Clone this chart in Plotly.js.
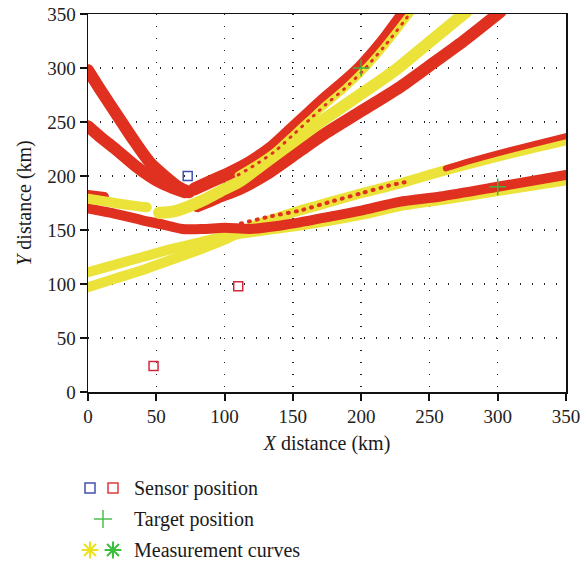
<!DOCTYPE html>
<html><head><meta charset="utf-8">
<script src="https://cdn.plot.ly/plotly-3.0.1.min.js"></script>
<style>
html,body{margin:0;padding:0;background:#fff}
.scatterlayer .js-line{stroke-linecap:round;stroke-linejoin:round}
</style>
</head><body>
<div id="chart" style="width:581px;height:565px"></div>
<script>
// ---- data (km) ----
const redOuterX = [0, 10, 22, 33, 45, 57, 66, 74];
const redOuterY = [298, 278, 255, 234, 213, 199, 190, 185];
const redInnerX = [0, 10, 21, 35, 50, 62, 71];
const redInnerY = [246, 235, 224, 209, 196, 189, 185];
const redBand1X = [78, 90, 104, 119, 135, 148, 160, 172, 186, 199, 215, 232];
const redBand1Y = [188, 195, 203, 213, 227, 242, 256, 270, 285, 300, 323, 352];
const yelBand1X = [110, 122, 137, 150, 162, 174, 188, 201, 217, 238];
const yelBand1Y = [201, 210, 223, 238, 252, 266, 281, 297, 320, 354];
const yelLeftX = [0, 15, 30, 43];
const yelLeftY = [179, 176, 173, 171];
const redLeftX = [0, 6, 12];
const redLeftY = [183, 182, 181];
const yelBand2X = [52, 62, 72, 85, 100, 111, 125, 140, 155, 170, 185, 200, 215, 228, 250, 277];
const yelBand2Y = [166, 167, 171, 178, 188, 195, 208, 222, 236, 250, 263, 276, 289, 301, 324, 352];
const redBand3X = [80, 95, 111, 130, 155, 172, 200, 228, 250, 275, 302];
const redBand3Y = [172, 180, 188, 201, 223, 238, 260, 282, 302, 325, 352];
const redLowX = [0, 20, 40, 55, 69, 85, 100, 119, 140, 155, 180, 200, 228, 258, 300, 350];
const redLowY = [170, 165, 159, 155, 151, 151, 152, 151, 154, 157, 163, 168, 176, 181, 190, 201];
const yelLow1X = [0, 20, 40, 60, 80, 100, 120, 155, 200, 228, 260, 300, 350];
const yelLow1Y = [111, 118, 125, 132, 138, 144, 148, 154, 164, 172, 178, 186, 196];
const yelLow2X = [0, 20, 40, 60, 80, 100, 118, 140, 155, 180, 200, 228, 258, 300, 350];
const yelLow2Y = [97, 105, 113, 122, 131, 141, 152, 162, 168, 177, 184, 193, 204, 218, 233];
const redSpeckUX = [112, 135, 155, 180, 200, 220, 235];
const redSpeckUY = [156, 163, 168, 177, 184, 191, 195];
const redEdgeUX = [262, 280, 300, 325, 350];
const redEdgeUY = [207, 214, 221, 229, 237];
const blueSensorX = [73];
const blueSensorY = [200];
const redSensorX = [48, 110];
const redSensorY = [24, 98];
const targetX = [200, 300];
const targetY = [300, 190];
const xTicks = [0, 50, 100, 150, 200, 250, 300, 350];
const yTicks = [0, 50, 100, 150, 200, 250, 300, 350];
const legendLabels = ['Sensor position', 'Target position', 'Measurement curves'];

// ---- styles / layout ----
const RED = '#e0301f', YEL = '#ebe33a', GREEN = '#3fb33f', BLUE = '#4150ad', SRED = '#d2283a';
const FONT = 'Liberation Serif, Times New Roman, serif';
const W = 581, H = 565, M = {l: 88, r: 15, t: 14, b: 5};
const paperH = H - M.t - M.b;
const plotBottomPx = 392;
const mainBottom = (H - M.b - plotBottomPx) / paperH;
const legDom = 0.2;

function band(x, y, color, width, dash) {
  const ln = {color: color, width: width, shape: 'spline', smoothing: 0.7};
  if (dash) ln.dash = dash;
  return {x: x, y: y, type: 'scatter', mode: 'lines', hoverinfo: 'skip', line: ln, showlegend: false};
}

const SPECK = '1px,7px';
const traces = [
  band(yelLow1X, yelLow1Y, YEL, 10),
  band(yelLow2X, yelLow2Y, YEL, 10),
  band(redLowX, redLowY, RED, 10),
  band(redSpeckUX, redSpeckUY, RED, 4, SPECK),
  band(redEdgeUX, redEdgeUY, RED, 6),
  band(redLeftX, redLeftY, RED, 9),
  band(yelLeftX, yelLeftY, YEL, 10),
  band(redOuterX, redOuterY, RED, 12),
  band(redInnerX, redInnerY, RED, 12),
  band(redBand3X, redBand3Y, RED, 12),
  band(yelBand2X, yelBand2Y, YEL, 12),
  band(redBand1X, redBand1Y, RED, 13),
  band(yelBand1X, yelBand1Y, YEL, 7),
  band(yelBand1X, yelBand1Y, RED, 3, SPECK),
  {x: blueSensorX, y: blueSensorY, type: 'scatter', mode: 'markers', showlegend: false,
   marker: {symbol: 'square-open', size: 9, color: BLUE, line: {width: 1.5, color: BLUE}}},
  {x: redSensorX, y: redSensorY, type: 'scatter', mode: 'markers', showlegend: false,
   marker: {symbol: 'square-open', size: 9, color: SRED, line: {width: 1.5, color: SRED}}},
  {x: targetX, y: targetY, type: 'scatter', mode: 'markers', showlegend: false,
   marker: {symbol: 'cross-thin-open', size: 12, color: GREEN, line: {width: 1.5, color: '#2f9a2f'}}}
];

// legend built on a hidden axis pair (x2 and y2 measured in px)
const legY = [488, 519, 550];
traces.push(
  {x: [90, 113], y: [legY[0], legY[0]], xaxis: 'x2', yaxis: 'y2', type: 'scatter', mode: 'markers', showlegend: false, cliponaxis: false,
   marker: {symbol: 'square-open', size: 10, color: [BLUE, '#e03a3a'], line: {width: 1.5, color: [BLUE, '#e03a3a']}}},
  {x: [103], y: [legY[1]], xaxis: 'x2', yaxis: 'y2', type: 'scatter', mode: 'markers', showlegend: false, cliponaxis: false,
   marker: {symbol: 'cross-thin-open', size: 13, color: '#4cc04c', line: {width: 1.5, color: '#4cc04c'}}},
  {x: [90, 113], y: [legY[2], legY[2]], xaxis: 'x2', yaxis: 'y2', type: 'scatter', mode: 'markers', showlegend: false, cliponaxis: false,
   marker: {symbol: 'asterisk-open', size: 14, color: ['#ece21c', '#3cc03c'], line: {width: 2, color: ['#ece21c', '#3cc03c']}}}
);

const annotations = legendLabels.map((t, i) => ({
  xref: 'x2', yref: 'y2', x: 132, y: legY[i], xanchor: 'left', yanchor: 'middle', showarrow: false,
  text: t, font: {family: FONT, size: 20, color: '#1a1a1a'}
}));

const axisCommon = {
  range: [0, 350], dtick: 50, tick0: 0, showline: true, linecolor: '#111', linewidth: 1.5, mirror: true,
  ticks: 'outside', ticklen: 7, tickwidth: 2, tickcolor: '#111', zeroline: false,
  showgrid: true, gridcolor: '#222', gridwidth: 1.5, griddash: '1px,11px',
  tickfont: {family: FONT, size: 19, color: '#222'}, fixedrange: true
};

const layout = {
  width: W, height: H, margin: M, paper_bgcolor: '#fff', plot_bgcolor: '#fff', showlegend: false,
  xaxis: Object.assign({}, axisCommon, {tickvals: xTicks, domain: [0, 1], anchor: 'y',
    title: {text: '<i>X</i> distance (km)', font: {family: FONT, size: 20, color: '#1a1a1a'}, standoff: 9}}),
  yaxis: Object.assign({}, axisCommon, {tickvals: yTicks, domain: [mainBottom, 1], anchor: 'x',
    title: {text: '<i>Y</i> distance (km)', font: {family: FONT, size: 20, color: '#1a1a1a'}, standoff: 10}}),
  xaxis2: {domain: [0, 1], range: [M.l, W - M.r], visible: false, anchor: 'y2', fixedrange: true},
  yaxis2: {domain: [0, legDom], range: [H - M.b, H - M.b - legDom * paperH], visible: false, anchor: 'x2', fixedrange: true},
  annotations: annotations
};

Plotly.newPlot('chart', traces, layout, {displayModeBar: false, staticPlot: true});
</script>
</body></html>
